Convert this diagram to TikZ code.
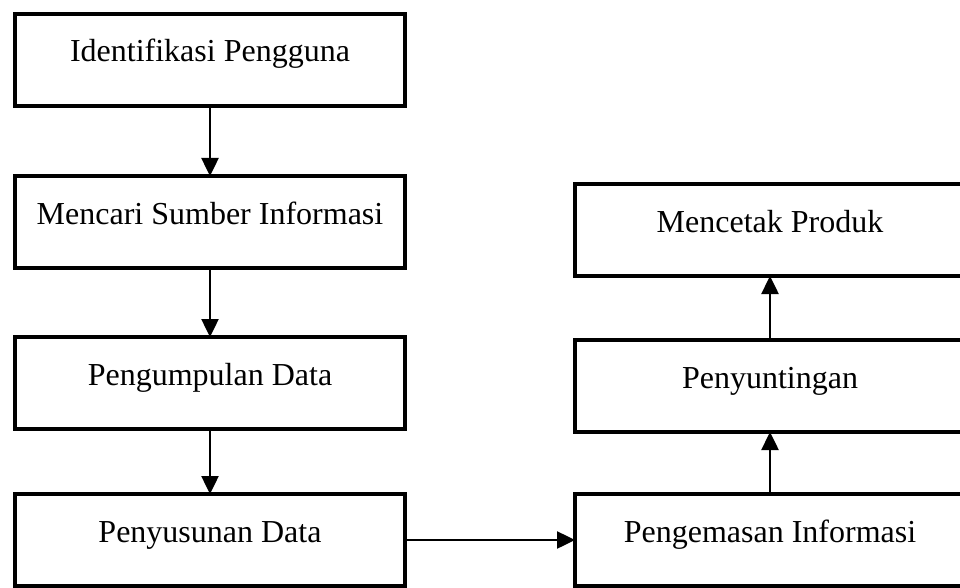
\documentclass[tikz,border=0pt]{standalone}
\usepackage{fontspec}
\setmainfont{Liberation Serif}
\usetikzlibrary{arrows.meta,positioning}

\begin{document}
\begin{tikzpicture}[x=1pt, y=1pt, node distance=66pt and 170pt]
    % Define styles
    \tikzstyle{component}=[rectangle,draw=black,line width=4.5pt,outer sep=0pt,inner sep=0pt,minimum width=390pt,minimum height=92pt,text height=48pt,text depth=44pt,font=\fontsize{32}{38}\selectfont]
    \tikzstyle{line}=[draw, line width=2.5pt, -{Triangle[width=17pt,length=18pt]}]

    \useasboundingbox (0,0) rectangle (960,-588);

    % Left column
    \node [component] (identifikasi) at (210,-60) {Identifikasi Pengguna};
    \node [component, below=70pt of identifikasi] (sumber) {Mencari Sumber Informasi};
    \node [component, below=69pt of sumber] (pengumpulan) {Pengumpulan Data};
    \node [component, below=65pt of pengumpulan] (penyusunan) {Penyusunan Data};

    % Right column
    \node [component, right=of penyusunan] (pengemasan) {Pengemasan Informasi};
    \node [component, above=62pt of pengemasan] (penyuntingan) {Penyuntingan};
    \node [component, above=64pt of penyuntingan] (mencetak) {Mencetak Produk};

    % Define connections
    \path [line] (identifikasi) -- (sumber);
    \path [line] (sumber) -- (pengumpulan);
    \path [line] (pengumpulan) -- (penyusunan);
    \path [line] (penyusunan) -- (pengemasan);
    \path [line] (pengemasan) -- (penyuntingan);
    \path [line] (penyuntingan) -- (mencetak);
\end{tikzpicture}
\end{document}
